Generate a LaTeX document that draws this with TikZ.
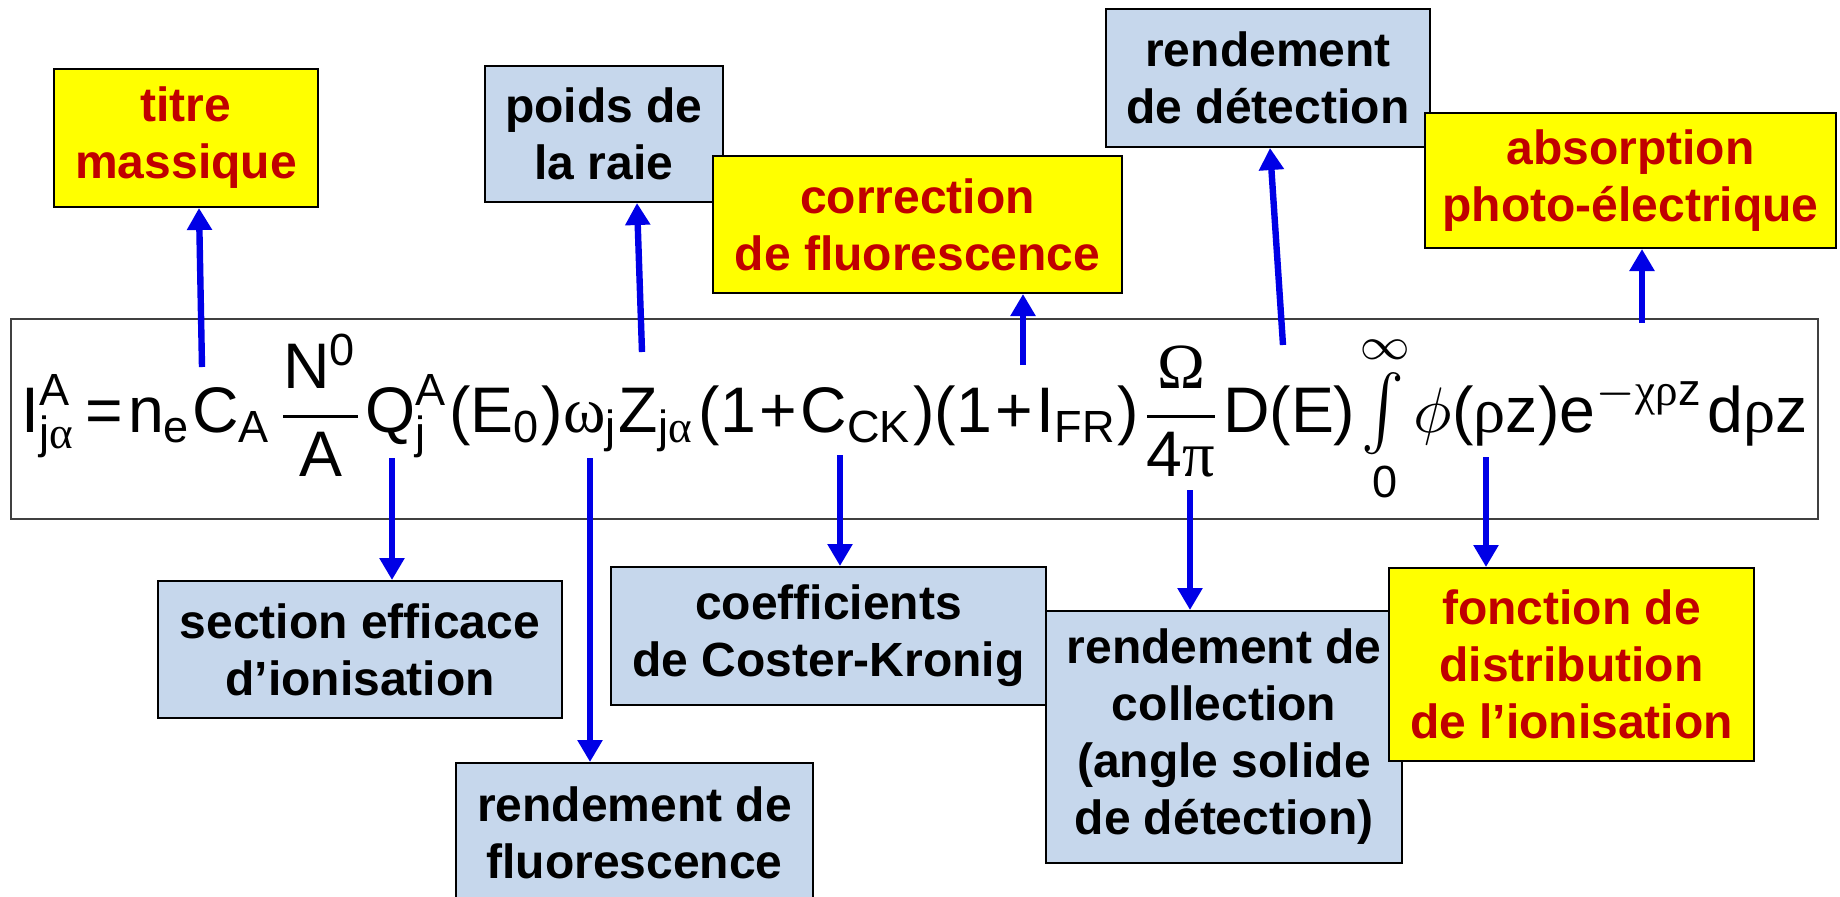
\documentclass[tikz,border=0pt]{standalone}
\usepackage{amsmath}
\usepackage{graphicx}
\usepackage{fontspec}
\setmainfont{Liberation Sans}
\newfontfamily\greekfont{Liberation Serif}
\usepackage{tikz}
\usetikzlibrary{arrows.meta}
\usepackage{xcolor}
\definecolor{boxblue}{HTML}{C6D7EC}
\definecolor{boxyellow}{HTML}{FFFF00}
\definecolor{textred}{HTML}{C00000}
\definecolor{arrowblue}{HTML}{0000E6}
\newcommand{\up}[1]{\mathrm{#1}}
\newcommand{\gk}[1]{\text{\greekfont #1}}
\newcommand{\lp}{\mathopen{\text{(}}}
\newcommand{\rp}{\mathclose{\text{)}}}
\newcommand{\pl}{\mathbin{\text{+}}}
\newcommand{\tallint}{\mathop{\scalebox{1}[1.15]{$\int$}}\limits}

\begin{document}
\begin{tikzpicture}[
  x=0.5pt,y=-0.5pt,
  font=\bfseries\fontsize{24}{28.5}\selectfont,
  line/.style={-{Triangle[width=12pt,length=11pt]},line width=3.2pt,draw=arrowblue},
  factor/.style={draw=black,line width=1pt,fill=boxblue,align=center,inner sep=0pt},
  highlight/.style={draw=black,line width=1pt,fill=boxyellow,text=textred,
                    align=center,inner sep=0pt},
  formula/.style={draw=black!75,line width=1pt,fill=white,inner sep=0pt,
                  minimum width=903.5pt,minimum height=100pt,font=\mdseries}
]
\useasboundingbox (0,0) rectangle (1840,896);

\node[highlight,minimum width=132pt,minimum height=69pt] (titre) at (186,138)
  {titre\\massique};
\node[factor,minimum width=119pt,minimum height=68pt] (poids) at (604,134)
  {poids de\\la raie};
\node[highlight,minimum width=204.5pt,minimum height=68.5pt] (correction)
  at (917.5,224.5) {correction\\de fluorescence};
\node[factor,minimum width=162pt,minimum height=69pt] (detection) at (1268,78)
  {rendement\\de détection};
\node[highlight,minimum width=205.5pt,minimum height=67.5pt] (absorption)
  at (1630.5,180.5) {absorption\\photo-électrique};

\node[formula] (eq) at (914.5,419) {\resizebox{893pt}{!}{$\displaystyle
  \thinmuskip=1mu \medmuskip=1mu \thickmuskip=1.5mu
  \up{I}^{\up{A}}_{\up{j}\gk{α}}\,\mathrel{\text{=}}\up{n}_{\up{e}}\up{C}_{\up{A}}\,
  \frac{\up{N}^{\up{0}}}{\up{A}}\up{Q}^{\up{A}}_{\up{j}}\lp\up{E}_{\up{0}}\rp
  \gk{ω}_{\up{j}}\up{Z}_{\up{j}\gk{α}}\,\lp\up{1}\pl\up{C}_{\up{CK}}\rp
  \lp\up{1}\pl\up{I}_{\up{FR}}\rp\frac{\gk{Ω}}{\up{4}\gk{π}}\up{D}\lp\up{E}\rp
  \tallint_{\up{0}}^{\infty}\phi\lp\gk{ρ}\up{z}\rp\up{e}^{-\gk{χρ}\up{z}}\,
  \up{d}\gk{ρ}\up{z}$}};

\node[factor,minimum width=202pt,minimum height=68.5pt] (section) at (360,649.5)
  {section efficace\\d’ionisation};
\node[factor,minimum width=178.5pt,minimum height=69.5pt] (fluo) at (634.5,832.5)
  {rendement de\\fluorescence};
\node[factor,minimum width=217.5pt,minimum height=69pt] (coster) at (828.5,636)
  {coefficients\\de Coster-Kronig};
\node[factor,minimum width=178pt,minimum height=126pt] (collection) at (1224,737)
  {rendement de\\collection\\(angle solide\\de détection)};
\node[highlight,minimum width=182.5pt,minimum height=96.5pt] (fonction)
  at (1571.5,664.5) {fonction de\\distribution\\de l’ionisation};

\coordinate (ca) at (202,367);
\coordinate (zja) at (642,352);
\coordinate (ifr) at (1023,365);
\coordinate (de) at (1283,345);
\coordinate (expo) at (1642,323);
\coordinate (qa) at (392,458);
\coordinate (omegaj) at (590,458);
\coordinate (cck) at (840,455);
\coordinate (pi4) at (1190,490);
\coordinate (phi) at (1486,457);

\draw[line] (ca) -- ([xshift=6.5pt]titre.south);
\draw[line] (zja) -- ([xshift=16.5pt]poids.south);
\draw[line] (ifr) -- (ifr |- correction.south);
\draw[line] (de) -- ([xshift=1pt]detection.south);
\draw[line] (expo) -- (expo |- absorption.south);
\draw[line] (qa) -- (qa |- section.north);
\draw[line] (omegaj) -- (omegaj |- fluo.north);
\draw[line] (cck) -- (cck |- coster.north);
\draw[line] (pi4) -- (pi4 |- collection.north);
\draw[line] (phi) -- (phi |- fonction.north);
\end{tikzpicture}
\end{document}
